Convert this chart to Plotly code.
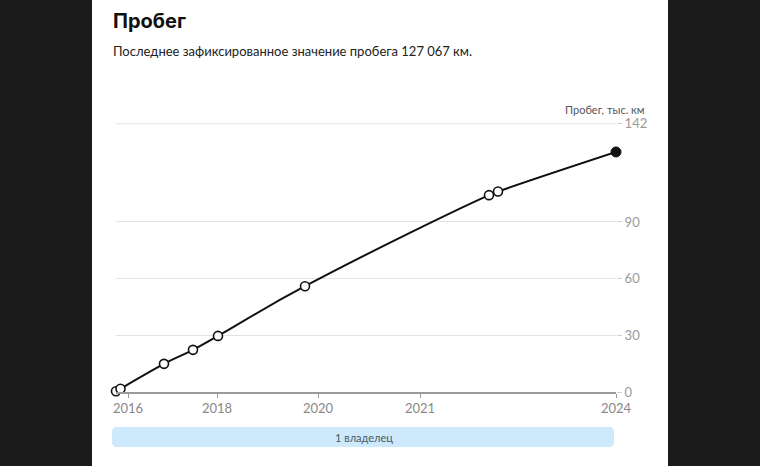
import plotly.graph_objects as go

# Data (x = position along the time axis, arbitrary units; y = mileage, thousand km)
x_pos = [0, 4.5, 48, 77, 102, 189, 373, 382, 500]
mileage = [0.4, 1.7, 14.9, 22.3, 29.7, 56.0, 104.2, 106.1, 127.067]
year_ticks = [12, 101, 202, 304, 500]
year_labels = ["2016", "2018", "2020", "2021", "2024"]
y_ticks = [0, 30, 60, 90, 142]

W, H = 760, 466
L, R, T, B = 116, 616, 123, 392  # plot area in pixels

def px(x):
    return (x - L) / (R - L)

def py(y):
    return (B - y) / (B - T)

fig = go.Figure()

fig.add_trace(go.Scatter(
    x=x_pos, y=mileage, mode="lines",
    line=dict(color="#111111", width=2, shape="spline", smoothing=1.3),
    hoverinfo="skip", cliponaxis=False, showlegend=False,
))
fig.add_trace(go.Scatter(
    x=x_pos[:-1], y=mileage[:-1], mode="markers",
    marker=dict(size=9, color="white", line=dict(color="#111111", width=1.6)),
    cliponaxis=False, showlegend=False,
))
fig.add_trace(go.Scatter(
    x=x_pos[-1:], y=mileage[-1:], mode="markers",
    marker=dict(size=10, color="#111111", line=dict(color="#111111", width=1)),
    cliponaxis=False, showlegend=False,
))

shapes = [
    # white card
    dict(type="rect", xref="paper", yref="paper", layer="below",
         x0=px(92), x1=px(668), y0=py(480), y1=py(-10),
         fillcolor="white", line=dict(width=0)),
    # top gridline (at the edge of the range)
    dict(type="line", xref="paper", yref="y", layer="below",
         x0=0, x1=1, y0=y_ticks[-1], y1=y_ticks[-1],
         line=dict(color="#e3e3e3", width=1)),
]
# rounded owner bar
bx0, bx1, by0, by1, r = 112, 614, 427, 447, 5
rx, ry = r / (R - L), r / (B - T)
X0, X1, Y0, Y1 = px(bx0), px(bx1), py(by1), py(by0)
path = (f"M {X0+rx},{Y0} L {X1-rx},{Y0} Q {X1},{Y0} {X1},{Y0+ry} "
        f"L {X1},{Y1-ry} Q {X1},{Y1} {X1-rx},{Y1} L {X0+rx},{Y1} "
        f"Q {X0},{Y1} {X0},{Y1-ry} L {X0},{Y0+ry} Q {X0},{Y0} {X0+rx},{Y0} Z")
shapes.append(dict(type="path", xref="paper", yref="paper", path=path,
                   fillcolor="#cde9fb", line=dict(width=0), layer="below"))

annotations = [
    dict(text="<b>Пробег</b>", xref="paper", yref="paper", x=px(111), y=py(21),
         xanchor="left", yanchor="middle", showarrow=False,
         font=dict(family="Inter", size=20, color="#111111")),
    dict(text="Последнее зафиксированное значение пробега 127\u202f067\u202fкм.",
         xref="paper", yref="paper", x=px(111), y=py(51),
         xanchor="left", yanchor="middle", showarrow=False,
         font=dict(family="Lato", size=13, color="#222222")),
    dict(text="Пробег, тыс. км", xref="paper", yref="paper", x=px(647), y=py(110),
         xanchor="right", yanchor="middle", showarrow=False,
         font=dict(family="Lato", size=11, color="#555555")),
    dict(text="1 владелец", xref="paper", yref="paper", x=px(364), y=py(437),
         xanchor="center", yanchor="middle", showarrow=False,
         font=dict(family="Lato", size=11, color="#4a5866")),
]

fig.update_layout(
    width=W, height=H,
    margin=dict(l=L, r=W - R, t=T, b=H - B, pad=0),
    paper_bgcolor="#1b1b1b", plot_bgcolor="white",
    shapes=shapes, annotations=annotations,
    showlegend=False,
    font=dict(family="Lato", color="#888888"),
)
fig.update_xaxes(
    range=[0, 500], tickvals=year_ticks, ticktext=year_labels,
    showgrid=False, zeroline=False, showline=True, linecolor="#9a9a9a", linewidth=1.5,
    ticks="outside", ticklen=4, tickcolor="#9a9a9a", tickwidth=1,
    tickfont=dict(family="Lato", size=13, color="#888888"),
    fixedrange=True,
)
fig.update_yaxes(
    range=[0, 142.4], tickvals=y_ticks, side="right",
    showgrid=True, gridcolor="#e3e3e3", gridwidth=1, zeroline=False, showline=False,
    ticks="outside", ticklen=5, tickcolor="#cfcfcf", tickwidth=1,
    tickfont=dict(family="Lato", size=13, color="#999999"),
    fixedrange=True,
)

fig.write_html("out.html")
